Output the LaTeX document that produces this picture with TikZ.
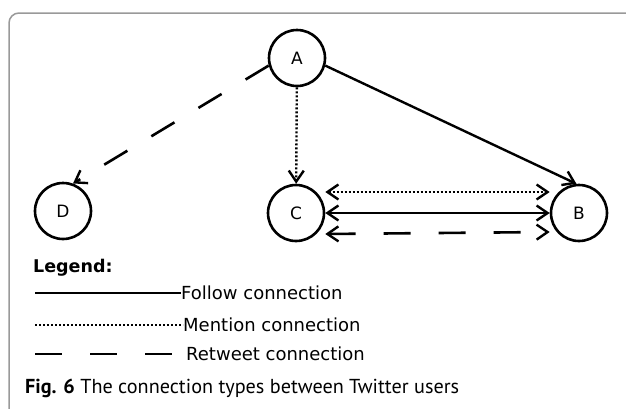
\documentclass[tikz,border=0pt]{standalone}
\usepackage{fontspec}
\setmainfont{DejaVu Sans}
\newfontfamily\capfont{PT Sans}
\usetikzlibrary{arrows.meta}

\tikzset{
  user/.style={circle, draw, line width=2.6pt, minimum size=56pt, inner sep=0pt, font=\fontsize{17}{17}\selectfont},
  follow/.style={line width=2.4pt},
  mention/.style={line width=2.4pt, dash pattern=on 2pt off 2pt},
  retweet/.style={line width=2.6pt, dash pattern=on 27pt off 28pt},
  keytext/.style={anchor=west, inner sep=0pt, font=\fontsize{18}{18}\selectfont},
}

\begin{document}
\begin{tikzpicture}[x=1pt, y=-1pt, >={Straight Barb[length=11pt, width=15pt, line width=2.4pt]}]
    \useasboundingbox (0,0) rectangle (626,408);
    % frame
    \draw [gray!80, line width=1.5pt, rounded corners=10pt] (9,440) -- (9,13) -- (660,13);

    % users
    \node [user] (A) at (297,58) {A};
    \node [user] (B) at (579,213) {B};
    \node [user] (C) at (296,213) {C};
    \node [user] (D) at (63,211) {D};

    % connections
    \draw [retweet, ->] (A.195) -- (D.70);
    \draw [mention, ->] (A) -- (C);
    \draw [follow, ->] (A.-15) -- (B.95);
    \draw [mention, <->] ([yshift=21pt]C.east) -- ([yshift=21pt]B.west);
    \draw [follow, <->] (C) -- (B);
    \draw [retweet, <->] ([yshift=-21pt]C.east) -- ([yshift=-19pt]B.west);

    % legend
    \node [anchor=west, inner sep=0pt, font=\bfseries\fontsize{17.5}{17.5}\selectfont] (legend) at (33,268) {Legend:};
    \node [keytext] (ftext) at (181,293) {Follow connection};
    \node [keytext] (mtext) at (183,325) {Mention connection};
    \node [keytext] (rtext) at (186,354) {Retweet connection};
    \coordinate (f0) at (35,293);
    \coordinate (m0) at (35,325);
    \coordinate (r0) at (35,354);
    \draw [follow, line width=2.6pt] (f0) -- (ftext.west);
    \draw [mention] (m0) -- (mtext.west);
    \draw [retweet] (r0) -- ([xshift=-14pt]rtext.west);

    % caption
    \node [anchor=west, inner sep=0pt, font=\capfont\fontsize{20.2}{20.2}\selectfont] (caption) at (25,388) {\textbf{Fig. 6} The connection types between Twitter users};
\end{tikzpicture}
\end{document}
